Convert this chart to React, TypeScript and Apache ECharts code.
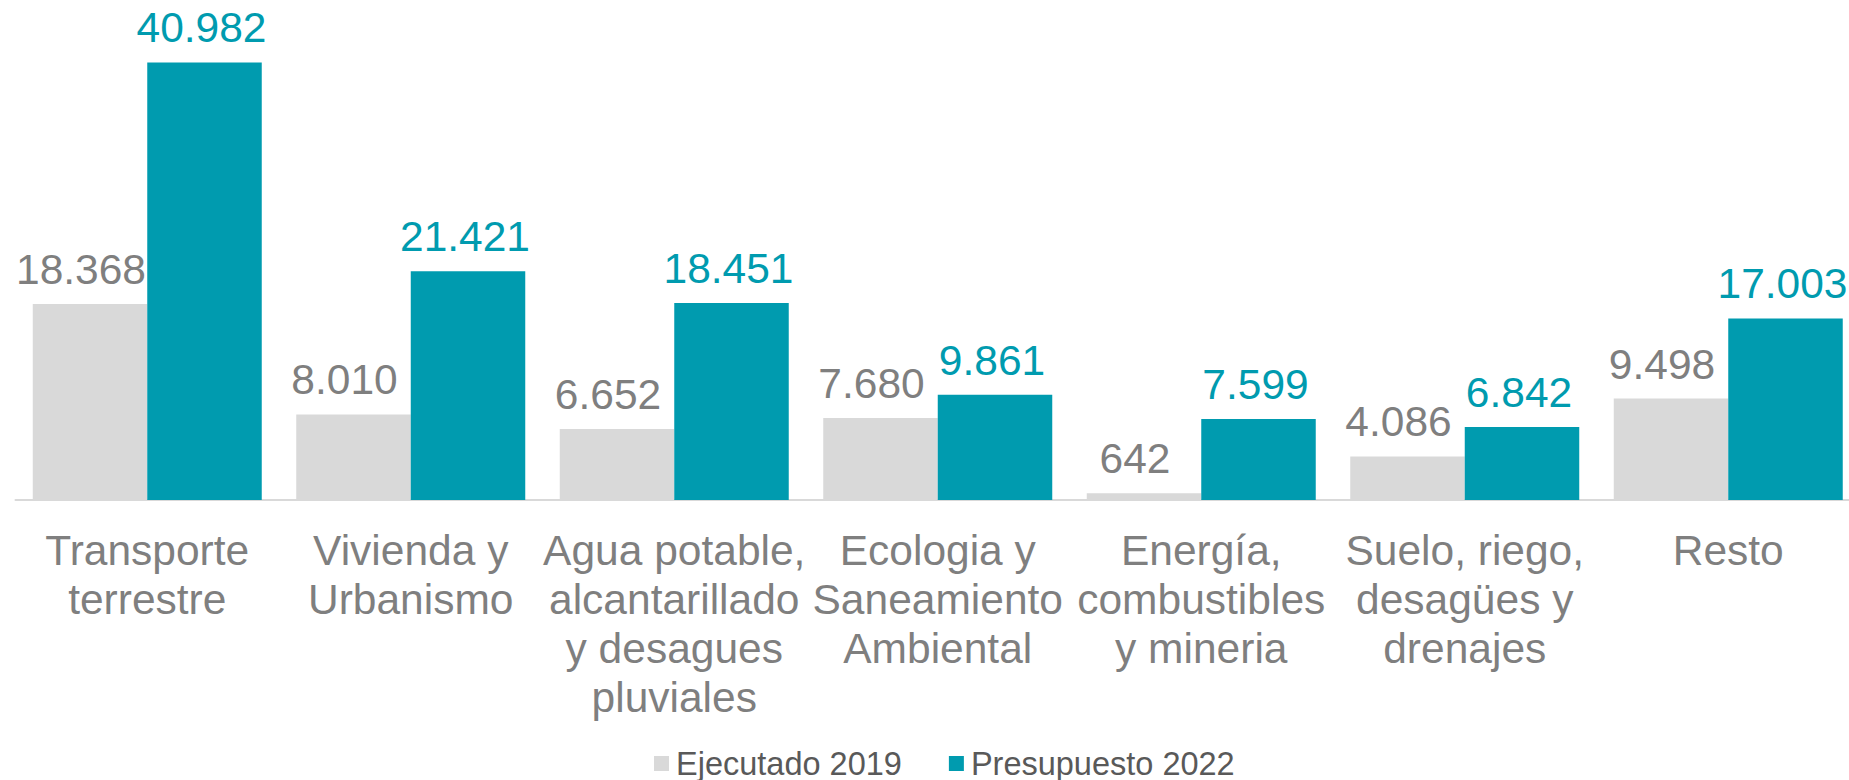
import React, { useEffect, useRef } from "react";
import * as echarts from "echarts";

const categories = [
  "Transporte\nterrestre",
  "Vivienda y\nUrbanismo",
  "Agua potable,\nalcantarillado\ny desagues\npluviales",
  "Ecologia y\nSaneamiento\nAmbiental",
  "Energía,\ncombustibles\ny mineria",
  "Suelo, riego,\ndesagües y\ndrenajes",
  "Resto",
];
const seriesNames = ["Ejecutado 2019", "Presupuesto 2022"];
const ejecutado2019 = [18368, 8010, 6652, 7680, 642, 4086, 9498];
const presupuesto2022 = [40982, 21421, 18451, 9861, 7599, 6842, 17003];

const GRAY_BAR = "#D9D9D9";
const TEAL = "#009BAF";
const LABEL_GRAY = "#7F7F7F";
const FONT = "'Liberation Sans', Arial, sans-serif";

const fmt = (v: number) => String(Math.round(v)).replace(/\B(?=(\d{3})+(?!\d))/g, ".");

export default function App() {
  const ref = useRef<HTMLDivElement>(null);
  useEffect(() => {
    if (!ref.current) return;
    const chart = echarts.init(ref.current, undefined, { renderer: "svg" });
    chart.setOption({
      animation: false,
      backgroundColor: "#FFFFFF",
      grid: { left: 15.5, top: 19.6, width: 1844.5, height: 480.4, containLabel: false },
      legend: {
        left: 649,
        top: 742,
        padding: 5,
        itemWidth: 15,
        itemHeight: 15,
        itemGap: 47,
        icon: "rect",
        textStyle: { fontFamily: FONT, fontSize: 32.5, lineHeight: 32, color: "#595959", padding: [0, 0, 0, 2] },
        data: seriesNames,
      },
      xAxis: {
        type: "category",
        data: categories,
        axisLine: { show: true, lineStyle: { color: "#D9D9D9", width: 2 } },
        axisTick: { show: false },
        axisLabel: {
          interval: 0,
          margin: 26,
          fontFamily: FONT,
          fontSize: 42.5,
          lineHeight: 49,
          color: LABEL_GRAY,
          hideOverlap: false,
        },
      },
      yAxis: {
        type: "value",
        min: 0,
        max: 45000,
        show: false,
        splitLine: { show: false },
      },
      series: [
        {
          name: seriesNames[0],
          type: "bar",
          data: ejecutado2019,
          barWidth: 114.5,
          barGap: "0%",
          itemStyle: { color: GRAY_BAR },
          label: {
            show: true,
            position: "top",
            distance: 13,
            offset: [-9, 0],
            fontFamily: FONT,
            fontSize: 42.5,
            color: LABEL_GRAY,
            formatter: (p: any) => fmt(p.value),
          },
        },
        {
          name: seriesNames[1],
          type: "bar",
          data: presupuesto2022,
          barWidth: 114.5,
          barGap: "0%",
          itemStyle: { color: TEAL },
          label: {
            show: true,
            position: "top",
            distance: 13,
            offset: [-3, 0],
            fontFamily: FONT,
            fontSize: 42.5,
            color: TEAL,
            formatter: (p: any) => fmt(p.value),
          },
        },
      ],
    });
    return () => chart.dispose();
  }, []);
  return (
    <div
      style={{ position: "fixed", left: 0, top: 0, width: 1849, height: 780, overflow: "hidden", background: "#FFFFFF" }}
    >
      <div ref={ref} style={{ width: 1880, height: 780 }} />
    </div>
  );
}
